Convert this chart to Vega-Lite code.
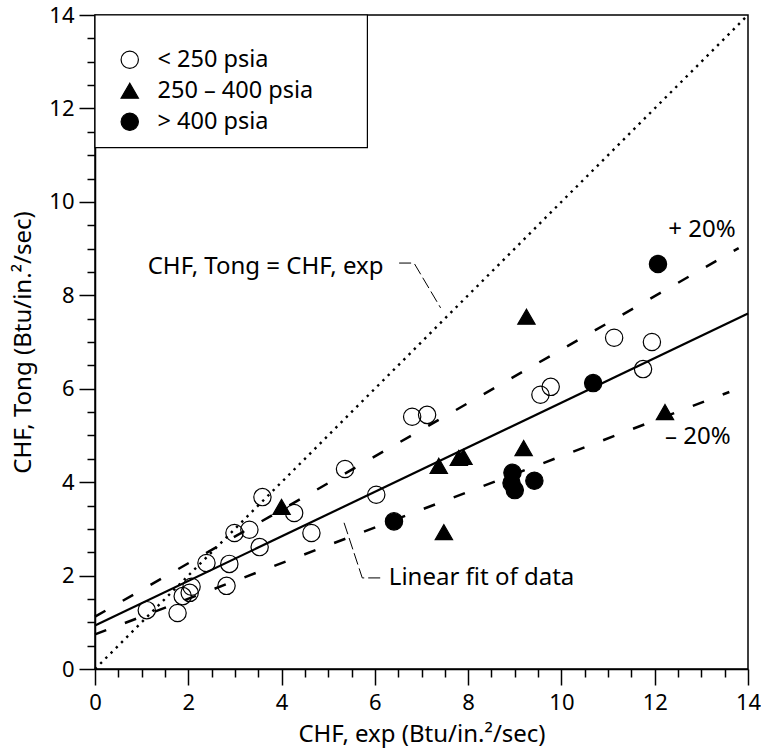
{
  "$schema": "https://vega.github.io/schema/vega-lite/v6.json",
  "width": 653,
  "height": 654,
  "autosize": {"type": "none"},
  "padding": {"left": 95, "top": 15, "right": 13, "bottom": 84},
  "background": "white",
  "config": {
    "font": "Noto Sans",
    "view": {"stroke": "black", "strokeWidth": 1.5},
    "axis": {
      "grid": false,
      "domainColor": "black",
      "domainWidth": 1.5,
      "tickColor": "black",
      "tickWidth": 1.5,
      "labelColor": "black",
      "titleColor": "black",
      "labelFontSize": 22,
      "titleFontSize": 24,
      "titleFontWeight": "normal",
      "labelFont": "Noto Sans",
      "titleFont": "Noto Sans",
      "labelOverlap": false,
      "labelFlush": false
    },
    "legend": {
      "orient": "none",
      "legendX": 23,
      "legendY": 33,
      "padding": 0,
      "labelFontSize": 23.5,
      "labelFont": "Noto Sans",
      "labelColor": "black",
      "symbolSize": 300,
      "labelOffset": 16,
      "rowPadding": 6,
      "symbolStrokeWidth": 1.2
    }
  },
  "datasets": {
    "pts": [
      {"g": "< 250 psia", "x": 1.11, "y": 1.26},
      {"g": "< 250 psia", "x": 1.77, "y": 1.2},
      {"g": "< 250 psia", "x": 1.88, "y": 1.56},
      {"g": "< 250 psia", "x": 2.03, "y": 1.63},
      {"g": "< 250 psia", "x": 2.07, "y": 1.76},
      {"g": "< 250 psia", "x": 2.39, "y": 2.27},
      {"g": "< 250 psia", "x": 2.82, "y": 1.78},
      {"g": "< 250 psia", "x": 2.88, "y": 2.25},
      {"g": "< 250 psia", "x": 2.99, "y": 2.91},
      {"g": "< 250 psia", "x": 3.31, "y": 2.98},
      {"g": "< 250 psia", "x": 3.53, "y": 2.61},
      {"g": "< 250 psia", "x": 3.59, "y": 3.68},
      {"g": "< 250 psia", "x": 4.27, "y": 3.34},
      {"g": "< 250 psia", "x": 4.64, "y": 2.91},
      {"g": "< 250 psia", "x": 5.36, "y": 4.28},
      {"g": "< 250 psia", "x": 6.03, "y": 3.73},
      {"g": "< 250 psia", "x": 6.8, "y": 5.4},
      {"g": "< 250 psia", "x": 7.12, "y": 5.44},
      {"g": "< 250 psia", "x": 9.55, "y": 5.87},
      {"g": "< 250 psia", "x": 9.77, "y": 6.04},
      {"g": "< 250 psia", "x": 11.13, "y": 7.09},
      {"g": "< 250 psia", "x": 11.94, "y": 7.0},
      {"g": "< 250 psia", "x": 11.75, "y": 6.42},
      {"g": "250 – 400 psia", "x": 4.0, "y": 3.47},
      {"g": "250 – 400 psia", "x": 7.37, "y": 4.35},
      {"g": "250 – 400 psia", "x": 7.8, "y": 4.52},
      {"g": "250 – 400 psia", "x": 7.9, "y": 4.54},
      {"g": "250 – 400 psia", "x": 9.19, "y": 4.73},
      {"g": "250 – 400 psia", "x": 9.25, "y": 7.54},
      {"g": "250 – 400 psia", "x": 7.48, "y": 2.93},
      {"g": "250 – 400 psia", "x": 12.22, "y": 5.5},
      {"g": "> 400 psia", "x": 6.41, "y": 3.16},
      {"g": "> 400 psia", "x": 8.95, "y": 4.2},
      {"g": "> 400 psia", "x": 8.93, "y": 3.98},
      {"g": "> 400 psia", "x": 9.0, "y": 3.83},
      {"g": "> 400 psia", "x": 9.42, "y": 4.03},
      {"g": "> 400 psia", "x": 10.68, "y": 6.12},
      {"g": "> 400 psia", "x": 12.07, "y": 8.67}
    ],
    "lines": [
      {"s": "identity", "x": 0, "y": 0},
      {"s": "identity", "x": 14, "y": 14},
      {"s": "fit", "x": 0, "y": 0.93},
      {"s": "fit", "x": 14, "y": 7.61},
      {"s": "plus20", "x": 0, "y": 1.12},
      {"s": "plus20", "x": 13.8, "y": 9.01},
      {"s": "minus20", "x": 0, "y": 0.74},
      {"s": "minus20", "x": 13.6, "y": 5.93},
      {"s": "leaderA", "x": 6.52, "y": 8.69},
      {"s": "leaderA", "x": 6.84, "y": 8.69},
      {"s": "leaderA", "x": 7.41, "y": 7.73},
      {"s": "leaderB", "x": 5.34, "y": 3.13},
      {"s": "leaderB", "x": 5.73, "y": 1.95},
      {"s": "leaderB", "x": 6.15, "y": 1.95}
    ],
    "labels": [
      {"x": 12.29, "y": 9.4, "t": "+ 20%"},
      {"x": 12.22, "y": 4.97, "t": "– 20%"},
      {"x": 1.13, "y": 8.61, "t": "CHF, Tong = CHF, exp"},
      {"x": 6.3, "y": 1.95, "t": "Linear fit of data"}
    ],
    "box": [{"x1": 0, "x2": 5.84, "y1": 11.16, "y2": 14}]
  },
  "encoding": {
    "x": {
      "field": "x",
      "type": "quantitative",
      "scale": {"domain": [0, 14], "nice": false, "zero": false},
      "axis": {
        "title": "CHF, exp (Btu/in.²/sec)",
        "values": [0, 0.5, 1, 1.5, 2, 2.5, 3, 3.5, 4, 4.5, 5, 5.5, 6, 6.5, 7, 7.5, 8, 8.5, 9, 9.5, 10, 10.5, 11, 11.5, 12, 12.5, 13, 13.5, 14],
        "labelExpr": "datum.value % 2 === 0 ? format(datum.value, 'd') : ''",
        "tickSize": {"condition": {"test": "datum.value % 2 === 0", "value": 16}, "value": 8},
        "labelPadding": 7,
        "titlePadding": 9
      }
    },
    "y": {
      "field": "y",
      "type": "quantitative",
      "scale": {"domain": [0, 14], "nice": false, "zero": false},
      "axis": {
        "title": "CHF, Tong (Btu/in.²/sec)",
        "values": [0, 0.5, 1, 1.5, 2, 2.5, 3, 3.5, 4, 4.5, 5, 5.5, 6, 6.5, 7, 7.5, 8, 8.5, 9, 9.5, 10, 10.5, 11, 11.5, 12, 12.5, 13, 13.5, 14],
        "labelExpr": "datum.value % 2 === 0 ? format(datum.value, 'd') : ''",
        "tickSize": {"condition": {"test": "datum.value % 2 === 0", "value": 16}, "value": 8},
        "labelPadding": 5,
        "titlePadding": 13
      }
    }
  },
  "layer": [
    {
      "data": {"name": "lines"},
      "transform": [{"filter": "datum.s === 'identity'"}],
      "mark": {"type": "line", "color": "black", "strokeWidth": 2.4, "strokeDash": [2.4, 5], "strokeCap": "butt"}
    },
    {
      "data": {"name": "lines"},
      "transform": [{"filter": "datum.s === 'fit'"}],
      "mark": {"type": "line", "color": "black", "strokeWidth": 2.2}
    },
    {
      "data": {"name": "lines"},
      "transform": [{"filter": "datum.s === 'plus20' || datum.s === 'minus20'"}],
      "mark": {"type": "line", "color": "black", "strokeWidth": 2.5, "strokeDash": [12, 20], "strokeCap": "butt"},
      "encoding": {"detail": {"field": "s"}}
    },
    {
      "data": {"name": "lines"},
      "transform": [{"filter": "datum.s === 'leaderA' || datum.s === 'leaderB'"}],
      "mark": {"type": "line", "color": "black", "strokeWidth": 1, "strokeDash": [12, 4]},
      "encoding": {"detail": {"field": "s"}}
    },
    {
      "data": {"name": "box"},
      "mark": {"type": "rect", "fill": "white", "stroke": "black", "strokeWidth": 1.2},
      "encoding": {
        "x": {"field": "x1", "type": "quantitative"},
        "x2": {"field": "x2"},
        "y": {"field": "y1", "type": "quantitative"},
        "y2": {"field": "y2"}
      }
    },
    {
      "data": {"name": "pts"},
      "mark": {"type": "point", "filled": true, "strokeWidth": 1.2, "size": 300, "opacity": 1},
      "encoding": {
        "shape": {
          "field": "g",
          "type": "nominal",
          "scale": {"domain": ["< 250 psia", "250 – 400 psia", "> 400 psia"], "range": ["circle", "triangle-up", "circle"]},
          "legend": {"title": null}
        },
        "fill": {
          "field": "g",
          "type": "nominal",
          "scale": {"domain": ["< 250 psia", "250 – 400 psia", "> 400 psia"], "range": ["transparent", "black", "black"]},
          "legend": {"title": null}
        },
        "stroke": {
          "field": "g",
          "type": "nominal",
          "scale": {"domain": ["< 250 psia", "250 – 400 psia", "> 400 psia"], "range": ["black", "black", "black"]},
          "legend": {"title": null}
        }
      }
    },
    {
      "data": {"name": "labels"},
      "mark": {"type": "text", "align": "left", "baseline": "middle", "fontSize": 24, "font": "Noto Sans", "color": "black"},
      "encoding": {"text": {"field": "t"}}
    }
  ]
}
